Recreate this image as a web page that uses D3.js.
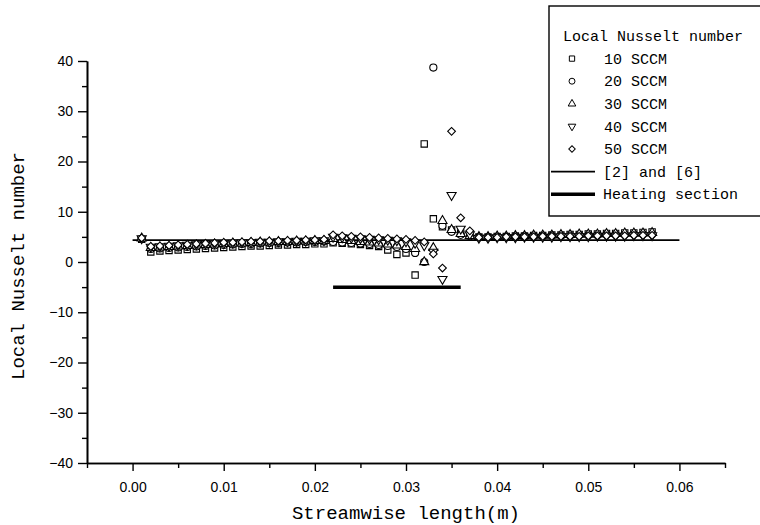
<!DOCTYPE html>
<html>
<head>
<meta charset="utf-8">
<script src="https://cdn.jsdelivr.net/npm/d3@7"></script>
<style>
  html, body { margin: 0; padding: 0; background: #fff; }
  svg { display: block; }
</style>
</head>
<body>
<svg id="chart" width="760" height="525"></svg>
<script>
// ---------------- data ----------------
const xPositions = [0.001,0.002,0.003,0.004,0.005,0.006,0.007,0.008,0.009,0.010,
  0.011,0.012,0.013,0.014,0.015,0.016,0.017,0.018,0.019,0.020,
  0.021,0.022,0.023,0.024,0.025,0.026,0.027,0.028,0.029,0.030,
  0.031,0.032,0.033,0.034,0.035,0.036,0.037,0.038,0.039,0.040,
  0.041,0.042,0.043,0.044,0.045,0.046,0.047,0.048,0.049,0.050,
  0.051,0.052,0.053,0.054,0.055,0.056,0.057];

const nu10 = [4.5,
  2.0,2.2,2.3,2.4,2.5,2.6,2.7,2.8,2.9,3.0,3.1,3.2,3.2,3.3,3.4,3.4,3.5,3.5,3.6,3.6,
  3.8,3.7,3.6,3.5,3.3,3.1,2.4,1.5,1.8,-2.6,23.5,8.6,7.0,6.4,5.8,5.3,
  5.0,5.0,5.1,5.1,5.2,5.2,5.3,5.3,5.4,5.4,5.5,5.5,5.6,5.6,5.7,5.7,5.8,5.8,5.9,6.0];
const nu20 = [4.6,
  2.6,2.7,2.8,2.9,3.0,3.1,3.2,3.3,3.4,3.5,3.6,3.6,3.7,3.8,3.8,3.9,3.9,4.0,4.0,4.1,
  4.0,3.9,3.8,3.7,3.6,3.4,3.2,3.0,2.6,1.8,0.0,38.7,7.2,6.0,5.4,5.1,
  4.9,4.9,5.0,5.0,5.0,5.1,5.1,5.1,5.2,5.2,5.2,5.3,5.3,5.3,5.4,5.4,5.4,5.5,5.5,5.5];
const nu30 = [4.7,
  2.8,2.9,3.0,3.1,3.2,3.3,3.4,3.5,3.6,3.7,3.7,3.8,3.9,3.9,4.0,4.0,4.1,4.1,4.2,4.2,
  4.6,4.4,4.2,4.0,3.9,3.7,3.5,3.3,3.0,2.6,0.0,2.8,8.2,6.4,5.6,5.2,
  5.0,5.0,5.1,5.1,5.2,5.2,5.3,5.3,5.3,5.4,5.4,5.5,5.5,5.5,5.6,5.6,5.7,5.7,5.7,5.8];
const nu40 = [4.7,
  3.0,3.1,3.2,3.3,3.4,3.5,3.6,3.7,3.7,3.8,3.9,3.9,4.0,4.0,4.1,4.1,4.2,4.2,4.3,4.3,
  5.0,4.9,4.8,4.7,4.6,4.5,4.4,4.3,4.1,3.8,3.3,2.0,-3.4,13.3,6.6,5.5,
  4.8,4.8,4.9,4.9,4.9,5.0,5.0,5.0,5.0,5.1,5.1,5.1,5.1,5.2,5.2,5.2,5.2,5.3,5.3,5.3];
const nu50 = [4.8,
  3.1,3.2,3.3,3.4,3.5,3.6,3.7,3.8,3.9,3.9,4.0,4.1,4.1,4.2,4.2,4.3,4.3,4.4,4.4,4.5,
  5.4,5.2,5.1,5.0,4.9,4.8,4.7,4.6,4.5,4.3,4.0,1.6,-1.2,26.0,8.8,6.2,
  4.9,4.9,4.9,5.0,5.0,5.0,5.0,5.1,5.1,5.1,5.1,5.1,5.2,5.2,5.2,5.2,5.2,5.3,5.3,5.3];

const seriesNames = ["10 SCCM","20 SCCM","30 SCCM","40 SCCM","50 SCCM"];
const seriesValues = [nu10, nu20, nu30, nu40, nu50];

const refLineX = [0.0, 0.060];      // [2] and [6]
const refLineY = [4.36, 4.36];
const heatingX = [0.022, 0.036];    // Heating section
const heatingY = [-5, -5];

const xMajorTicks = [0.00,0.01,0.02,0.03,0.04,0.05,0.06];
const xMinorTicks = [-0.005,0.005,0.015,0.025,0.035,0.045,0.055,0.065];
const yMajorTicks = [-40,-30,-20,-10,0,10,20,30,40];
const yMinorTicks = [-35,-25,-15,-5,5,15,25,35];

const legendTitle = "Local Nusselt number";
const lineLegendNames = ["[2] and [6]", "Heating section"];

// ---------------- layout ----------------
const svg = d3.select("#chart");
const M = { left: 87, right: 725, top: 61, bottom: 463 };
const monoFont = "'Liberation Mono', 'DejaVu Sans Mono', monospace";
const sansFont = "'Liberation Sans', Arial, sans-serif";

const x = d3.scaleLinear().domain([-0.005, 0.065]).range([M.left, M.right]);
const y = d3.scaleLinear().domain([-40, 40]).range([M.bottom, M.top]);

// axes
svg.append("g").attr("transform", `translate(0,${M.bottom})`)
  .call(d3.axisBottom(x).tickValues(xMajorTicks).tickFormat(d3.format(".2f"))
    .tickSize(8).tickSizeOuter(0).tickPadding(11));
svg.append("g").attr("transform", `translate(0,${M.bottom})`)
  .call(d3.axisBottom(x).tickValues(xMinorTicks).tickFormat("").tickSize(5).tickSizeOuter(0));
svg.append("g").attr("transform", `translate(${M.left},0)`)
  .call(d3.axisLeft(y).tickValues(yMajorTicks).tickSize(9).tickSizeOuter(0).tickPadding(5));
svg.append("g").attr("transform", `translate(${M.left},0)`)
  .call(d3.axisLeft(y).tickValues(yMinorTicks).tickFormat("").tickSize(5).tickSizeOuter(0));

svg.selectAll(".domain").attr("stroke", "#000").attr("stroke-width", 1.6);
svg.selectAll(".tick line").attr("stroke", "#000").attr("stroke-width", 1.4);
svg.selectAll(".tick text").attr("fill", "#000")
  .style("font-family", sansFont).style("font-size", "14px");

// axis titles
svg.append("text")
  .attr("x", (M.left + M.right) / 2).attr("y", 519)
  .attr("text-anchor", "middle")
  .style("font-family", monoFont).style("font-size", "19px")
  .text("Streamwise length(m)");
svg.append("text")
  .attr("transform", `translate(24,266) rotate(-90)`)
  .attr("text-anchor", "middle")
  .style("font-family", monoFont).style("font-size", "19px")
  .text("Local Nusselt number");

// reference lines
const line = d3.line().x(d => x(d[0])).y(d => y(d[1]));
svg.append("path")
  .attr("d", line(d3.zip(refLineX, refLineY)))
  .attr("stroke", "#000").attr("stroke-width", 1.6).attr("fill", "none");
svg.append("path")
  .attr("d", line(d3.zip(heatingX, heatingY)))
  .attr("stroke", "#000").attr("stroke-width", 3.5).attr("fill", "none");

// symbols
const symbolDefs = [
  { type: d3.symbolSquare, size: 40, rot: 0 },
  { type: d3.symbolCircle, size: 40, rot: 0 },
  { type: d3.symbolTriangle, size: 36, rot: 0 },
  { type: d3.symbolTriangle, size: 36, rot: 180 },
  { type: d3.symbolSquare, size: 30, rot: 45 }
];

seriesValues.forEach((vals, si) => {
  const def = symbolDefs[si];
  const sym = d3.symbol().type(def.type).size(def.size);
  svg.append("g").selectAll("path")
    .data(d3.zip(xPositions, vals))
    .join("path")
    .attr("d", sym)
    .attr("transform", d => `translate(${x(d[0])},${y(d[1])}) rotate(${def.rot})`)
    .attr("fill", "#fff").attr("stroke", "#000").attr("stroke-width", 1.1);
});

// legend
const lg = svg.append("g");
lg.append("rect")
  .attr("x", 549).attr("y", 6).attr("width", 220).attr("height", 210)
  .attr("fill", "#fff").attr("stroke", "#000").attr("stroke-width", 1.4);
const rowY = i => 36 + i * 22.6;
lg.append("text").attr("x", 563).attr("y", rowY(0)).attr("dy", "0.35em")
  .style("font-family", monoFont).style("font-size", "15px").text(legendTitle);
seriesNames.forEach((name, i) => {
  const def = symbolDefs[i];
  lg.append("path")
    .attr("d", d3.symbol().type(def.type).size(def.size * 0.7)())
    .attr("transform", `translate(572,${rowY(i + 1)}) rotate(${def.rot})`)
    .attr("fill", "#fff").attr("stroke", "#000").attr("stroke-width", 1);
  lg.append("text").attr("x", 604).attr("y", rowY(i + 1)).attr("dy", "0.35em")
    .style("font-family", monoFont).style("font-size", "15px").text(name);
});
lineLegendNames.forEach((name, j) => {
  const ry = rowY(6 + j);
  lg.append("line").attr("x1", 551).attr("x2", 595).attr("y1", ry).attr("y2", ry)
    .attr("stroke", "#000").attr("stroke-width", j === 0 ? 1.6 : 3.5);
  lg.append("text").attr("x", 603).attr("y", ry).attr("dy", "0.35em")
    .style("font-family", monoFont).style("font-size", "15px").text(name);
});
</script>
</body>
</html>
